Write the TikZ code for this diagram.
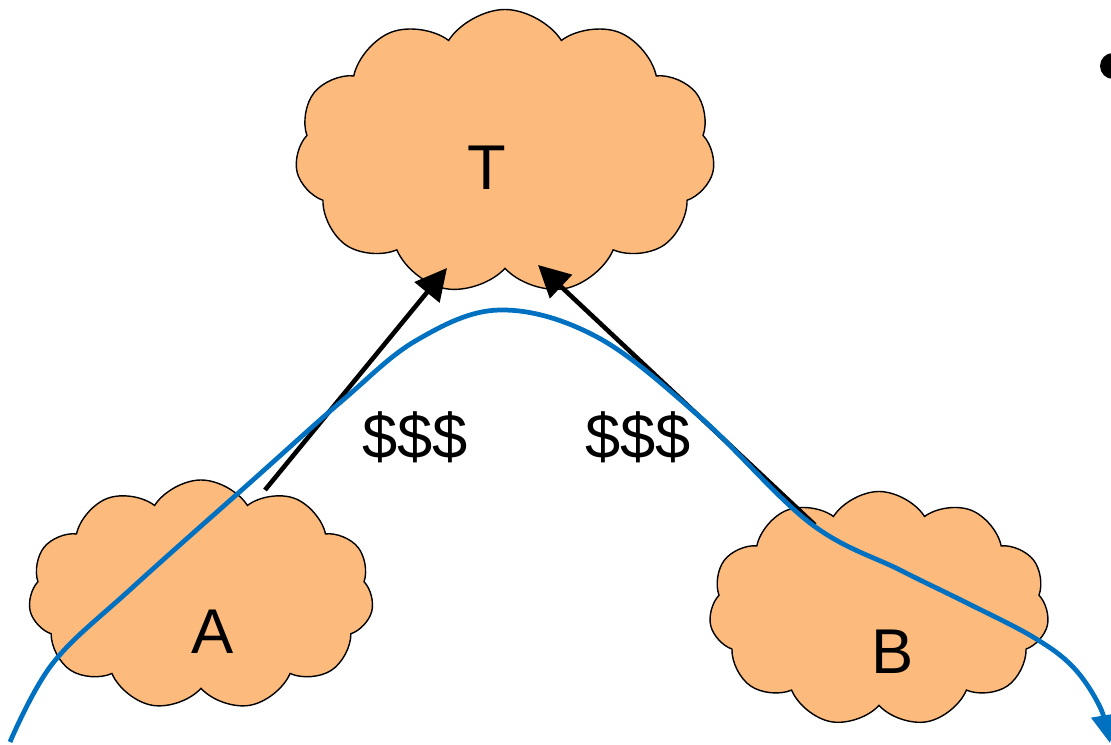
\documentclass[tikz,border=0pt]{standalone}
\usepackage{fontspec}
\setmainfont{Liberation Sans}
\usetikzlibrary{arrows.meta,shapes.symbols,calc}
\definecolor{puff}{HTML}{FCBB7C}
\definecolor{flow}{HTML}{0070C0}
\tikzset{
  blob/.style={cloud, cloud puffs=11, cloud puff arc=115, cloud ignores aspect,
    draw=black, thin, fill=puff, inner sep=0pt},
  tag/.style={font=\fontsize{18}{20}\selectfont},
  pay/.style={-{Triangle[length=9pt,width=9pt]}, line width=1.3pt},
  route/.style={flow, line width=1.35pt, -{Triangle[length=8pt,width=8pt]}},
}
\begin{document}
\begin{tikzpicture}
  \useasboundingbox (0,0) rectangle (11.11,7.45);
  % the three parties
  \node[blob, minimum width=4.2cm, minimum height=2.85cm] (T) at (5.05,5.93) {};
  \node[blob, minimum width=3.45cm, minimum height=2.3cm] (A) at (2.01,1.50) {};
  \node[blob, minimum width=3.4cm, minimum height=2.35cm] (B) at (8.79,1.36) {};
  \node[tag] (tT) at (4.87,5.77) {T};
  \node[tag] (tA) at (2.13,1.13) {A};
  \node[tag] (tB) at (8.93,0.93) {B};
  % payments
  \draw[pay] ($(A)+(0.64,1.05)$) -- ($(T)+(-0.58,-1.16)$);
  \draw[pay] ($(B)+(-0.64,0.84)$) -- ($(T)+(0.33,-1.13)$);
  \node[tag] (p1) at (4.15,3.08) {\$\$\$};
  \node[tag] (p2) at (6.38,3.08) {\$\$\$};
  % path of the traffic
  \draw[route] plot[smooth, tension=0.6] coordinates {(0.10,0.03) (0.53,0.82) (1.33,1.58)
    (2.53,2.65) (3.43,3.45) (4.17,4.05) (5.00,4.35) (5.97,4.08) (7.00,3.28) (8.10,2.22)
    (9.00,1.75) (9.67,1.42) (10.33,1.08) (10.73,0.78) (11.00,0.38) (11.10,0.02)};
  \fill (11.13,6.79) circle (0.13);
\end{tikzpicture}
\end{document}
